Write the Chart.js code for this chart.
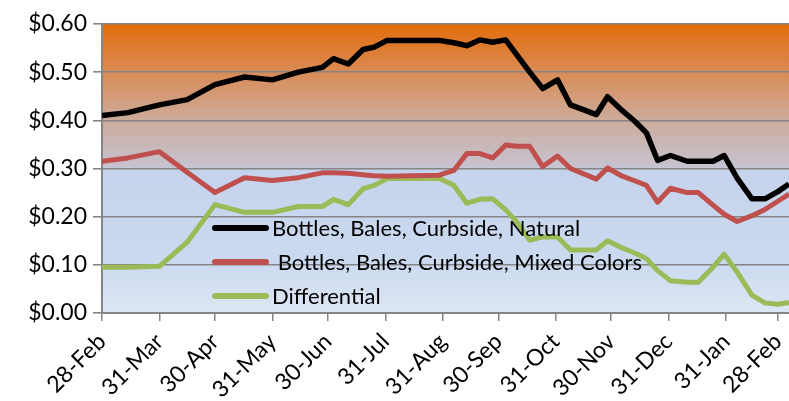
<!DOCTYPE html>
<html>
<head>
<meta charset="utf-8">
<script src="https://cdn.jsdelivr.net/npm/chart.js@4/dist/chart.umd.min.js"></script>
<style>
  html, body { margin: 0; padding: 0; background: #ffffff; }
  #wrap { width: 789px; height: 401px; }
</style>
</head>
<body>
<div id="wrap"><canvas id="c" width="789" height="401"></canvas></div>
<script>
// ---- data ----
const startDate = "2010-02-28";
const dates = [
  "2010-02-28","2010-03-14","2010-03-31","2010-04-15","2010-04-30","2010-05-16","2010-05-31",
  "2010-06-14","2010-06-27","2010-07-03","2010-07-11","2010-07-19","2010-07-25","2010-08-01",
  "2010-08-29","2010-09-06","2010-09-13","2010-09-20","2010-09-27","2010-10-04","2010-10-10",
  "2010-10-17","2010-10-24","2010-11-01","2010-11-08","2010-11-22","2010-11-28","2010-12-06",
  "2010-12-13","2010-12-19","2010-12-25","2011-01-01","2011-01-10","2011-01-16","2011-01-24",
  "2011-01-30","2011-02-06","2011-02-14","2011-02-21","2011-02-28","2011-03-06"
];
const natural = [
  0.410,0.416,0.432,0.443,0.474,0.490,0.484,
  0.500,0.510,0.528,0.517,0.547,0.552,0.566,
  0.566,0.561,0.555,0.567,0.562,0.567,0.536,
  0.500,0.466,0.484,0.432,0.412,0.449,0.420,
  0.397,0.374,0.317,0.327,0.315,0.315,0.315,
  0.327,0.280,0.237,0.237,0.252,0.268
];
const mixed = [
  0.315,0.322,0.335,0.292,0.250,0.281,0.275,
  0.281,0.291,0.291,0.290,0.287,0.285,0.284,
  0.286,0.296,0.331,0.331,0.322,0.349,0.346,
  0.346,0.304,0.326,0.300,0.278,0.301,0.284,
  0.274,0.265,0.230,0.259,0.250,0.250,0.224,
  0.205,0.190,0.202,0.215,0.232,0.247
];
const differential = [
  0.095,0.095,0.097,0.147,0.225,0.209,0.209,
  0.221,0.221,0.236,0.225,0.258,0.265,0.279,
  0.280,0.265,0.228,0.236,0.237,0.214,0.189,
  0.151,0.158,0.158,0.131,0.131,0.150,0.135,
  0.124,0.113,0.088,0.067,0.064,0.064,0.095,
  0.122,0.085,0.037,0.021,0.018,0.022
];
const seriesLabels = [
  "Bottles, Bales, Curbside, Natural",
  " Bottles, Bales, Curbside, Mixed Colors",
  "Differential"
];
const xTickDates = [
  "2010-02-28","2010-03-31","2010-04-30","2010-05-31","2010-06-30","2010-07-31",
  "2010-08-31","2010-09-30","2010-10-31","2010-11-30","2010-12-31","2011-01-31","2011-02-28"
];
const xTickLabels = [
  "28-Feb","31-Mar","30-Apr","31-May","30-Jun","31-Jul",
  "31-Aug","30-Sep","31-Oct","30-Nov","31-Dec","31-Jan","28-Feb"
];
const xEndDate = "2011-03-06";
const yTickValues = [0, 0.1, 0.2, 0.3, 0.4, 0.5, 0.6];
const yTickLabels = ["$0.00","$0.10","$0.20","$0.30","$0.40","$0.50","$0.60"];

// ---- helpers ----
const dayOf = s => {
  const p = s.split("-").map(Number), q = startDate.split("-").map(Number);
  return Math.round((Date.UTC(p[0], p[1]-1, p[2]) - Date.UTC(q[0], q[1]-1, q[2])) / 86400000);
};
const xs = dates.map(dayOf);
const toPts = arr => arr.map((v, i) => ({ x: xs[i], y: v }));
const xTickDays = xTickDates.map(dayOf);

const FONT = "Lato";
const GRID = "#858585";

const bgPlugin = {
  id: "bg",
  beforeDraw(chart) {
    const { ctx, chartArea: a, scales: { y } } = chart;
    const top = y.getPixelForValue(0.6), bot = y.getPixelForValue(0);
    const g = ctx.createLinearGradient(0, top, 0, bot);
    const at = v => (y.getPixelForValue(v) - top) / (bot - top);
    g.addColorStop(0, "#E36D0C");
    g.addColorStop(at(0.5), "#D98B55");
    g.addColorStop(at(0.4), "#CCAC9C");
    g.addColorStop(at(0.305), "#C6C2CF");
    g.addColorStop(at(0.295), "#C5D3EC");
    g.addColorStop(at(0.1), "#CCDAF0");
    g.addColorStop(1, "#DDE6F3");
    ctx.save();
    ctx.fillStyle = g;
    ctx.fillRect(a.left, a.top, a.right - a.left, a.bottom - a.top);
    ctx.restore();
  }
};

const legendPlugin = {
  id: "inlegend",
  afterDatasetsDraw(chart) {
    const { ctx } = chart;
    const rowsY = [228, 262, 296];
    ctx.save();
    chart.data.datasets.forEach((ds, i) => {
      const y = rowsY[i];
      ctx.strokeStyle = ds.borderColor;
      ctx.lineWidth = 6;
      ctx.lineCap = "round";
      ctx.beginPath();
      ctx.moveTo(215, y);
      ctx.lineTo(266, y);
      ctx.stroke();
      ctx.fillStyle = "#000";
      ctx.font = "22px " + FONT;
      ctx.textBaseline = "middle";
      ctx.textAlign = "left";
      ctx.fillText(ds.label, 272, y + 1);
    });
    ctx.restore();
  }
};

new Chart(document.getElementById("c"), {
  type: "line",
  data: {
    datasets: [
      { label: seriesLabels[0], data: toPts(natural), borderColor: "#000000", borderWidth: 5.5 },
      { label: seriesLabels[1], data: toPts(mixed), borderColor: "#C0504D", borderWidth: 5 },
      { label: seriesLabels[2], data: toPts(differential), borderColor: "#9BBB59", borderWidth: 5 }
    ]
  },
  options: {
    responsive: false,
    animation: false,
    parsing: false,
    layout: { padding: { top: 24, right: 0, left: 0, bottom: 0 } },
    elements: {
      point: { radius: 0, hoverRadius: 0 },
      line: { tension: 0, borderJoinStyle: "round", borderCapStyle: "butt", fill: false }
    },
    plugins: { legend: { display: false }, tooltip: { enabled: false } },
    scales: {
      x: {
        type: "linear",
        min: 0,
        max: dayOf(xEndDate),
        afterBuildTicks(s) { s.ticks = xTickDays.map(v => ({ value: v })); },
        afterFit(s) { s.height = 88; s.paddingLeft = 0; s.paddingRight = 0; },
        ticks: {
          autoSkip: false,
          minRotation: 45,
          maxRotation: 45,
          padding: 7,
          color: "#000",
          font: { family: FONT, size: 23 },
          callback: (v, i) => xTickLabels[i]
        },
        grid: { drawOnChartArea: false, color: GRID, lineWidth: 1.5, tickLength: 8 },
        border: { color: GRID, width: 2 }
      },
      y: {
        min: 0,
        max: 0.6,
        afterBuildTicks(s) { s.ticks = yTickValues.map(v => ({ value: v })); },
        afterFit(s) { s.width = 102; s.paddingTop = 0; s.paddingBottom = 0; },
        ticks: {
          padding: 6,
          color: "#000",
          font: { family: FONT, size: 23 },
          callback: (v, i) => yTickLabels[i]
        },
        grid: { color: GRID, lineWidth: 1.6, tickLength: 9 },
        border: { color: GRID, width: 2 }
      }
    }
  },
  plugins: [bgPlugin, legendPlugin]
});
</script>
</body>
</html>
